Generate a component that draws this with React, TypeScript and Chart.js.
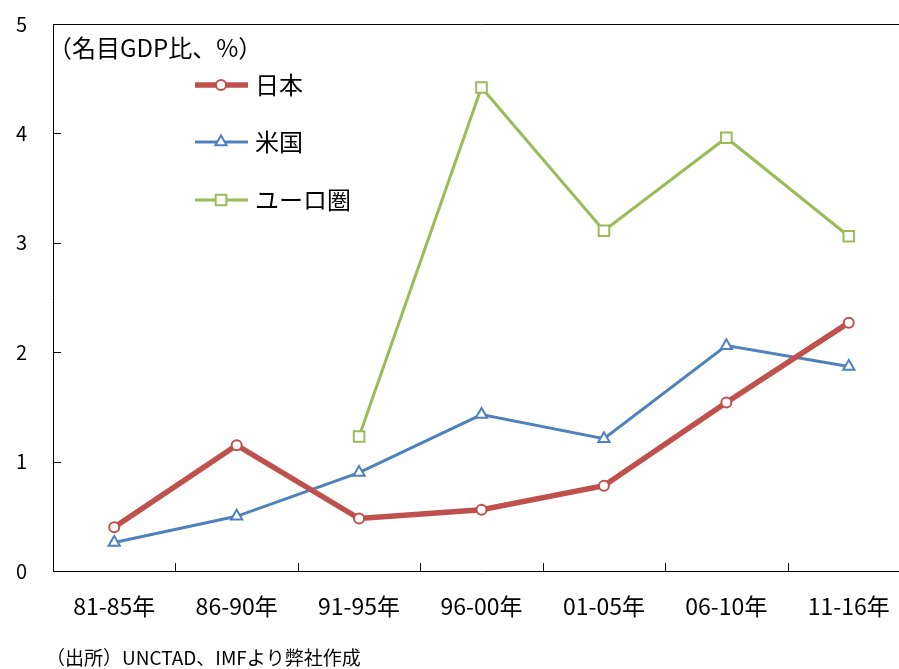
import React, { useEffect, useRef } from "react";
import { Chart, registerables } from "chart.js";

Chart.register(...registerables);

const categories = ["81-85年", "86-90年", "91-95年", "96-00年", "01-05年", "06-10年", "11-16年"];
const japan = [0.4, 1.15, 0.48, 0.56, 0.78, 1.54, 2.27];
const usa = [0.26, 0.5, 0.9, 1.43, 1.21, 2.06, 1.87];
const euro = [null, null, 1.23, 4.42, 3.11, 3.96, 3.06];
const seriesNames = ["日本", "米国", "ユーロ圏"];
const yTicks = [0, 1, 2, 3, 4, 5];
const unitNote = "（名目GDP比、%）";
const sourceNote = "（出所）UNCTAD、IMFより弊社作成";

const FONT = "'Noto Sans CJK JP', 'Noto Sans', sans-serif";

const overlay = {
  id: "overlay",
  afterDraw(chart: any) {
    const ctx = chart.ctx;
    const { left, top, bottom, right } = chart.chartArea;
    const y = chart.scales.y;
    ctx.save();
    ctx.strokeStyle = "#000";
    ctx.lineWidth = 1;
    ctx.beginPath();
    ctx.moveTo(left + 0.5, top);
    ctx.lineTo(left + 0.5, bottom);
    ctx.moveTo(left, bottom + 0.5);
    ctx.lineTo(right, bottom + 0.5);
    ctx.moveTo(left, top + 0.5);
    ctx.lineTo(right, top + 0.5);
    ctx.stroke();
    ctx.beginPath();
    for (const v of yTicks) {
      const py = Math.round(y.getPixelForValue(v)) + 0.5;
      ctx.moveTo(left, py);
      ctx.lineTo(left + 8, py);
    }
    const n = categories.length;
    const w = (right - left) / n;
    for (let i = 1; i < n; i++) {
      const px = Math.round(left + w * i) + 0.5;
      ctx.moveTo(px, bottom);
      ctx.lineTo(px, bottom - 8);
    }
    ctx.stroke();

    ctx.fillStyle = "#000";
    ctx.font = `24px ${FONT}`;
    ctx.textAlign = "left";
    ctx.textBaseline = "middle";
    ctx.fillText(unitNote, 48, 48);

    const ys = [85, 142, 200];
    chart.data.datasets.forEach((ds: any, i: number) => {
      const ly = ys[i];
      ctx.strokeStyle = ds.borderColor;
      ctx.lineWidth = ds.borderWidth;
      ctx.beginPath();
      ctx.moveTo(195, ly);
      ctx.lineTo(248, ly);
      ctx.stroke();
      ctx.fillStyle = "#fff";
      ctx.lineWidth = ds.pointBorderWidth;
      ctx.strokeStyle = ds.borderColor;
      ctx.beginPath();
      const cx = 221;
      if (ds.pointStyle === "circle") {
        ctx.arc(cx, ly, ds.pointRadius, 0, Math.PI * 2);
      } else if (ds.pointStyle === "triangle") {
        const r = ds.pointRadius;
        ctx.moveTo(cx, ly - r);
        ctx.lineTo(cx + r * 0.866, ly + r * 0.5);
        ctx.lineTo(cx - r * 0.866, ly + r * 0.5);
        ctx.closePath();
      } else {
        const s = ds.pointRadius * Math.SQRT1_2;
        ctx.rect(cx - s, ly - s, s * 2, s * 2);
      }
      ctx.fill();
      ctx.stroke();
      ctx.fillStyle = "#000";
      ctx.font = `24px ${FONT}`;
      ctx.fillText(seriesNames[i], 255, ly);
    });

    ctx.font = `19px ${FONT}`;
    ctx.fillStyle = "#000";
    ctx.textBaseline = "middle";
    ctx.fillText(sourceNote, 46, 658);
    ctx.restore();
  },
};

export default function App() {
  const ref = useRef<HTMLCanvasElement>(null);
  useEffect(() => {
    const chart = new Chart(ref.current!, {
      type: "line",
      data: {
        labels: categories,
        datasets: [
          {
            label: seriesNames[0],
            data: japan,
            borderColor: "#C0504D",
            backgroundColor: "#ffffff",
            borderWidth: 5.5,
            pointStyle: "circle",
            pointRadius: 5,
            pointBorderWidth: 2,
            pointBackgroundColor: "#ffffff",
            pointBorderColor: "#C0504D",
          },
          {
            label: seriesNames[1],
            data: usa,
            borderColor: "#4F81BD",
            backgroundColor: "#ffffff",
            borderWidth: 3,
            pointStyle: "triangle",
            pointRadius: 6.5,
            pointBorderWidth: 2,
            pointBackgroundColor: "#ffffff",
            pointBorderColor: "#4F81BD",
          },
          {
            label: seriesNames[2],
            data: euro,
            borderColor: "#9BBB59",
            backgroundColor: "#ffffff",
            borderWidth: 3,
            pointStyle: "rect",
            pointRadius: 7.5,
            pointBorderWidth: 2,
            pointBackgroundColor: "#ffffff",
            pointBorderColor: "#9BBB59",
            spanGaps: false,
          },
        ] as any,
      },
      options: {
        animation: false,
        responsive: false,
        maintainAspectRatio: false,
        layout: { padding: { top: 24, left: 0, right: 20, bottom: 0 } },
        plugins: { legend: { display: false }, tooltip: { enabled: false } },
        scales: {
          x: {
            offset: true,
            grid: { display: false, drawTicks: false },
            border: { display: false },
            ticks: {
              color: "#000",
              font: { family: FONT, size: 23 },
              padding: 21,
              maxRotation: 0,
              autoSkip: false,
            },
            afterFit: (s: any) => {
              s.height = 98;
              s.paddingLeft = 0;
              s.paddingRight = 0;
            },
          },
          y: {
            min: 0,
            max: 5,
            grid: { display: false, drawTicks: false },
            border: { display: false },
            ticks: {
              stepSize: 1,
              color: "#000",
              font: { family: FONT, size: 20 },
              padding: 26,
            },
            afterFit: (s: any) => {
              s.width = 53;
              s.paddingTop = 0;
              s.paddingBottom = 0;
            },
          },
        },
      },
      plugins: [overlay],
    });
    return () => chart.destroy();
  }, []);
  return (
    <div
      style={{
        position: "fixed",
        left: 0,
        top: 0,
        width: 899,
        height: 669,
        overflow: "hidden",
        background: "#fff",
      }}
    >
      <canvas ref={ref} width={930} height={669} style={{ width: 930, height: 669, display: "block" }} />
    </div>
  );
}
